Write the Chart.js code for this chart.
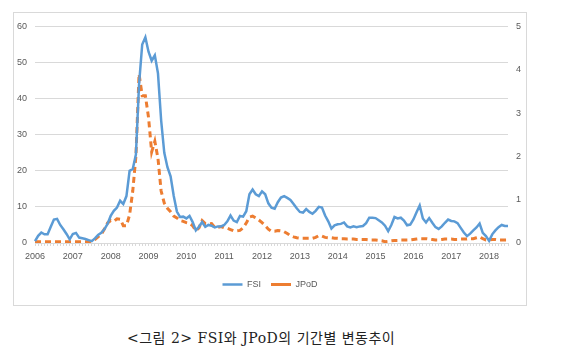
<!DOCTYPE html>
<html>
<head>
<meta charset="utf-8">
<script src="https://cdn.jsdelivr.net/npm/chart.js@4.4.0/dist/chart.umd.min.js"></script>
<style>
  body { margin: 0; background: #fff; width: 570px; height: 353px; position: relative; overflow: hidden; }
  #frame { position: absolute; left: 13px; top: 12px; width: 512px; height: 292px; border: 1px solid #D9D9D9; }
  #frame canvas { display: block; }
  #caption { position: absolute; left: 127px; top: 327px; font-family: "DejaVu Serif", "Noto Sans CJK KR", serif; font-size: 14px; color: #222; letter-spacing: 0.5px; white-space: nowrap; }
</style>
</head>
<body>
<div id="frame"><canvas id="myChart" width="512" height="292"></canvas></div>
<div id="caption">&lt;그림 2&gt; FSI와 JPoD의 기간별 변동추이</div>
<script>
// monthly series, Jan 2006 .. Jul 2018
const years = ['2006', '2007', '2008', '2009', '2010', '2011', '2012', '2013', '2014', '2015', '2016', '2017', '2018'];
const lastYearMonths = 7;

const fsi = [
  0.5, 2.0, 2.9, 2.4, 2.4, 4.5, 6.5, 6.7, 5.0, 3.8, 2.5, 1.0,
  2.5, 2.8, 1.5, 1.3, 1.1, 0.8, 0.5, 1.3, 2.2, 2.8, 3.8, 5.3,
  7.5, 8.9, 9.8, 11.7, 10.8, 13.0, 20.0, 20.5, 24.5, 44.0, 55.0, 57.0,
  53.0, 50.5, 52.0, 47.0, 34.0, 25.0, 21.0, 18.5, 13.0, 8.7, 7.2, 7.3,
  6.8, 7.5, 5.8, 3.5, 4.5, 5.8, 4.5, 5.0, 4.8, 4.3, 4.6, 4.6,
  5.0, 6.0, 7.6, 6.2, 5.8, 7.5, 7.3, 8.8, 13.5, 14.8, 13.5, 13.0,
  14.3, 13.5, 11.0, 9.8, 9.5, 11.3, 12.6, 13.0, 12.5, 11.9, 10.8, 9.6,
  8.6, 8.4, 9.4, 8.6, 8.1, 8.9, 10.0, 9.8, 7.6, 6.0, 4.0, 4.9,
  5.2, 5.3, 5.7, 4.6, 4.3, 4.6, 4.4, 4.6, 4.7, 5.5, 7.0, 7.0,
  6.9, 6.3, 5.7, 4.8, 3.3, 5.0, 7.2, 6.8, 7.0, 6.2, 4.9, 5.1,
  6.5, 8.5, 10.4, 6.8, 5.7, 6.9, 5.6, 4.4, 3.9, 4.6, 5.6, 6.5,
  6.1, 6.0, 5.5, 4.2, 2.9, 1.9, 2.6, 3.5, 4.3, 5.4, 2.8, 1.9,
  0.6, 2.4, 3.5, 4.4, 5.0, 4.7, 4.7
];

const jpod = [
  0.03, 0.03, 0.03, 0.03, 0.03, 0.03, 0.03, 0.03, 0.03, 0.03, 0.03, 0.03,
  0.03, 0.03, 0.03, 0.03, 0.03, 0.03, 0.04, 0.08, 0.14, 0.20, 0.32, 0.46,
  0.52, 0.50, 0.56, 0.55, 0.40, 0.40, 0.65, 1.20, 2.00, 3.90, 3.40, 3.40,
  2.90, 2.10, 2.35, 1.95, 1.20, 0.92, 0.80, 0.72, 0.62, 0.58, 0.52, 0.50,
  0.47, 0.45, 0.40, 0.28, 0.35, 0.52, 0.45, 0.44, 0.45, 0.36, 0.36, 0.38,
  0.35, 0.34, 0.31, 0.28, 0.28, 0.29, 0.35, 0.46, 0.60, 0.62, 0.58, 0.53,
  0.47, 0.40, 0.32, 0.27, 0.27, 0.29, 0.28, 0.26, 0.22, 0.17, 0.14, 0.12,
  0.11, 0.11, 0.11, 0.11, 0.11, 0.13, 0.17, 0.16, 0.13, 0.12, 0.12, 0.11,
  0.11, 0.10, 0.10, 0.09, 0.09, 0.09, 0.08, 0.08, 0.08, 0.08, 0.07, 0.07,
  0.07, 0.06, 0.05, 0.03, 0.04, 0.05, 0.06, 0.06, 0.07, 0.07, 0.07, 0.07,
  0.08, 0.09, 0.10, 0.10, 0.10, 0.09, 0.08, 0.07, 0.07, 0.08, 0.09, 0.09,
  0.09, 0.08, 0.08, 0.09, 0.09, 0.09, 0.10, 0.10, 0.12, 0.14, 0.10, 0.07,
  0.07, 0.08, 0.08, 0.07, 0.07, 0.07, 0.07
];

const leftTicks = [0, 10, 20, 30, 40, 50, 60];
const rightTicks = [0, 1, 2, 3, 4, 5];

const labels = [];
years.forEach((y, k) => {
  const n = k === years.length - 1 ? lastYearMonths : 12;
  for (let m = 1; m <= n; m++) labels.push(y + '-' + String(m).padStart(2, '0'));
});

const tickFont = { family: "'Liberation Sans Narrow', 'Liberation Sans', Arial, sans-serif", size: 9 };
const gray = '#595959';

new Chart(document.getElementById('myChart'), {
  type: 'line',
  data: {
    labels: labels,
    datasets: [
      {
        label: 'FSI',
        data: fsi,
        yAxisID: 'y',
        borderColor: '#5B9BD5',
        backgroundColor: '#5B9BD5',
        borderWidth: 2.5,
        pointRadius: 0,
        tension: 0
      },
      {
        label: 'JPoD',
        data: jpod,
        yAxisID: 'y1',
        borderColor: '#ED7D31',
        backgroundColor: '#ED7D31',
        borderWidth: 3,
        borderDash: [6, 4],
        pointRadius: 0,
        tension: 0
      }
    ]
  },
  options: {
    responsive: false,
    animation: false,
    layout: { padding: { top: 13, left: 0, right: 0, bottom: 6 } },
    plugins: {
      tooltip: { enabled: false },
      legend: {
        position: 'bottom',
        labels: {
          usePointStyle: true,
          pointStyle: 'line',
          pointStyleWidth: 20,
          boxWidth: 20,
          boxHeight: 6,
          padding: 10,
          color: gray,
          font: tickFont
        }
      }
    },
    scales: {
      x: {
        offset: false,
        grid: { drawOnChartArea: false, tickLength: 3, color: '#D9D9D9' },
        border: { color: '#D9D9D9' },
        ticks: {
          autoSkip: false,
          maxRotation: 0,
          padding: 5,
          color: gray,
          font: tickFont,
          callback: function (v, i) {
            const l = labels[i];
            return l.endsWith('-01') ? l.slice(0, 4) : '';
          }
        },
        afterFit: function (s) { s.height = 27; }
      },
      y: {
        position: 'left',
        min: leftTicks[0],
        max: leftTicks[leftTicks.length - 1],
        afterBuildTicks: function (s) { s.ticks = leftTicks.map(v => ({ value: v })); },
        grid: { color: '#D9D9D9', drawTicks: false },
        border: { display: false },
        ticks: { color: gray, font: tickFont, padding: 8 },
        afterFit: function (s) { s.width = 21; }
      },
      y1: {
        position: 'right',
        min: rightTicks[0],
        max: rightTicks[rightTicks.length - 1],
        afterBuildTicks: function (s) { s.ticks = rightTicks.map(v => ({ value: v })); },
        grid: { display: false, drawTicks: false },
        border: { display: false },
        ticks: { color: gray, font: tickFont, padding: 8 },
        afterFit: function (s) { s.width = 18; }
      }
    }
  }
});
</script>
</body>
</html>
